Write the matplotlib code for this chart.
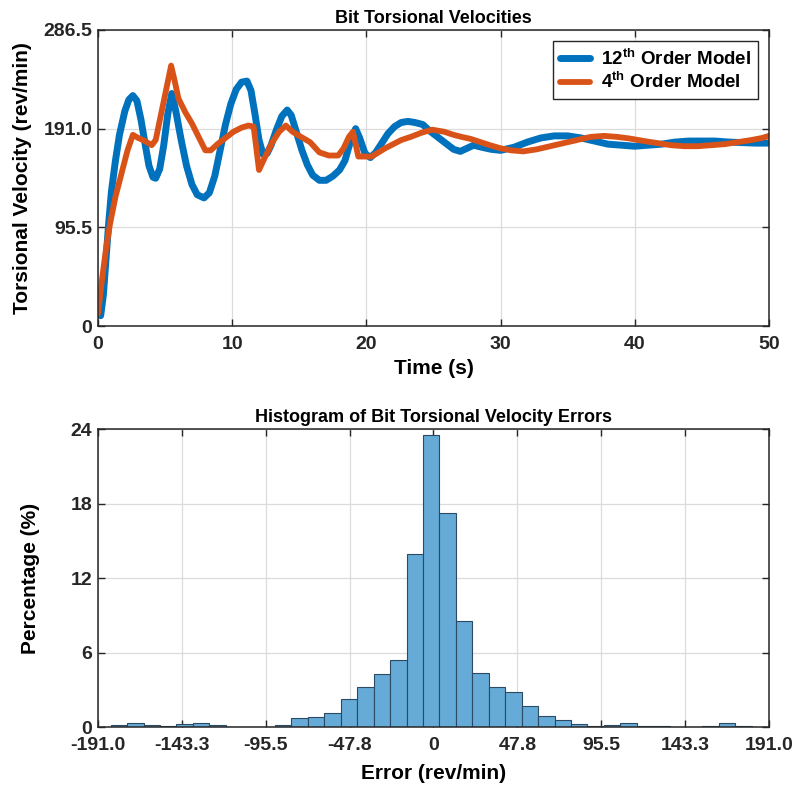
import numpy as np
import matplotlib
matplotlib.use('Agg')
import matplotlib.pyplot as plt

plt.rcParams['font.family'] = 'Liberation Sans'
plt.rcParams['font.weight'] = 'bold'
plt.rcParams['mathtext.fontset'] = 'custom'
plt.rcParams['mathtext.rm'] = 'Liberation Sans:bold'
plt.rcParams['mathtext.bf'] = 'Liberation Sans:bold'

# Bit torsional velocity, 12th order model (time s, rev/min)
t_12 = [0.0, 0.2, 0.4, 0.6, 0.8, 1.0, 1.3, 1.6, 2.0, 2.3, 2.6, 2.9, 3.2, 3.5, 3.8,
        4.1, 4.3, 4.6, 4.9, 5.2, 5.5, 5.8, 6.2, 6.6, 7.0, 7.4, 7.9, 8.3, 8.7, 9.1,
        9.5, 9.9, 10.3, 10.7, 11.1, 11.4, 11.7, 12.0, 12.3, 12.6, 12.9, 13.3, 13.7,
        14.1, 14.4, 14.8, 15.2, 15.6, 16.0, 16.5, 17.0, 17.5, 18.0, 18.4, 18.8, 19.2,
        19.5, 19.9, 20.3, 20.7, 21.2, 21.6, 22.1, 22.6, 23.1, 23.6, 24.2, 24.7, 25.3,
        25.9, 26.5, 27.0, 27.5, 28.0, 28.6, 29.3, 30.0, 31.0, 32.0, 33.0, 34.0, 35.0,
        36.0, 37.0, 38.0, 39.0, 40.0, 41.0, 42.0, 43.0, 44.0, 45.0, 46.0, 47.0, 48.0,
        49.0, 50.0]
v_12 = [12, 10, 30, 65, 100, 130, 160, 185, 208, 219, 223, 218, 200, 177, 155,
        144, 143, 152, 175, 205, 225, 208, 180, 155, 137, 127, 124, 129, 145, 170,
        195, 215, 229, 236, 237, 228, 205, 180, 166, 167, 175, 190, 203,
        209, 204, 187, 170, 156, 146, 141, 141, 145, 151, 160, 178, 191,
        182, 167, 163, 168, 178, 186, 193, 197, 198, 197, 195, 189, 183,
        177, 171, 169, 172, 175, 173, 171, 170, 173, 178, 182, 184, 184,
        182, 179, 176, 175, 174, 175, 176, 178, 179, 179, 179, 178, 177.5,
        177, 177]

# 4th order model
t_4 = [0.0, 0.3, 0.6, 0.9, 1.3, 1.8, 2.2, 2.6, 3.0, 3.5, 4.0, 4.3, 4.7, 5.1, 5.45,
       5.7, 6.0, 6.5, 7.0, 7.5, 8.0, 8.4, 8.9, 9.5, 10.1, 10.7, 11.2, 11.6, 12.0,
       12.5, 13.0, 13.5, 14.0, 14.5, 15.0, 15.8, 16.5, 17.2, 17.9, 18.3, 18.7, 19.0,
       19.4, 19.9, 20.4, 20.9, 21.4, 22.0, 22.6, 23.3, 24.1, 24.9, 25.8, 26.5, 27.1,
       27.8, 28.5, 29.2, 30.0, 30.8, 31.7, 32.7, 33.7, 34.7, 35.7, 36.7, 37.7, 38.7,
       39.6, 40.7, 41.7, 42.7, 43.7, 44.7, 45.7, 46.7, 47.7, 48.7, 49.5, 50.0]
v_4 = [12, 45, 75, 99, 125, 150, 170, 185, 182, 179, 175, 180, 205, 230, 252,
       238, 220, 207, 196, 183, 170, 170, 176, 182, 188, 192, 194, 193, 151,
       165, 178, 188, 194, 188, 184, 178, 168, 165, 165, 172, 183, 188,
       164, 164, 164, 168, 172, 176, 180, 183, 187, 190, 188, 185, 183,
       181, 178, 175, 172, 170, 169, 171, 174, 177, 180, 183, 184, 183,
       181.5, 179, 177, 175, 174, 174, 175, 176, 178, 180, 182, 184]

# error histogram (percent per bin)
bin_first_edge = -183.8
bin_width = 9.36
err_pct = [0.13, 0.30, 0.19, 0.08, 0.22, 0.30, 0.13, 0.01, 0.02, 0.01,
           0.13, 0.75, 0.78, 1.16, 2.23, 3.20, 4.25, 5.38, 13.94, 23.54,
           17.22, 8.58, 4.39, 3.20, 2.82, 1.67, 0.86, 0.59, 0.22, 0.05,
           0.13, 0.35, 0.11, 0.05, 0.01, 0.01, 0.11, 0.35, 0.05]

vel_ticks = [0, 95.5, 191.0, 286.5]
vel_labels = ['0', '95.5', '191.0', '286.5']
err_ticks = [-191.0, -143.3, -95.5, -47.8, 0, 47.8, 95.5, 143.3, 191.0]
err_labels = ['-191.0', '-143.3', '-95.5', '-47.8', '0', '47.8', '95.5', '143.3', '191.0']

dark = '#262626'

fig = plt.figure(figsize=(7.96, 7.93), dpi=100)
ax1 = fig.add_axes([0.1231, 0.5889, 0.8429, 0.3733])
ax2 = fig.add_axes([0.1231, 0.0832, 0.8429, 0.3754])

for ax in (ax1, ax2):
    ax.set_axisbelow(True)
    ax.grid(True, color='#dcdcdc', linewidth=0.9)
    ax.tick_params(direction='in', length=5, width=1, top=True, right=True,
                   labelsize=14, colors=dark)
    ax.tick_params(axis='x', pad=7)
    ax.tick_params(axis='y', pad=4)
    for s in ax.spines.values():
        s.set_color(dark)
        s.set_linewidth(1.1)

# Top: velocities
ax1.plot(t_12, v_12, color='#0072BD', linewidth=5.0, solid_joinstyle='round',
         solid_capstyle='round', label=r'12$^{\mathbf{th}}$ Order Model')
ax1.plot(t_4, v_4, color='#D95319', linewidth=4.2, solid_joinstyle='round',
         solid_capstyle='round', label=r'4$^{\mathbf{th}}$ Order Model')
ax1.set_xlim(0, 50)
ax1.set_ylim(0, 286.5)
ax1.set_yticks(vel_ticks)
ax1.set_yticklabels(vel_labels, fontweight='bold')
ax1.set_xticks([0, 10, 20, 30, 40, 50])
ax1.set_xticklabels(['0', '10', '20', '30', '40', '50'], fontweight='bold')
ax1.set_title('Bit Torsional Velocities', fontsize=13, fontweight='bold', pad=5)
ax1.set_xlabel('Time (s)', fontsize=15, fontweight='bold')
ax1.set_ylabel('Torsional Velocity (rev/min)', fontsize=15, fontweight='bold')
ax1.xaxis.set_label_coords(0.5, -0.11)
ax1.yaxis.set_label_coords(-0.098, 0.5)
leg = ax1.legend(loc='upper right', fancybox=False, framealpha=1, edgecolor=dark,
                 fontsize=13.5, handlelength=1.6, handletextpad=0.6,
                 borderaxespad=0.6, labelspacing=0.15, borderpad=0.35)
leg.get_frame().set_linewidth(1.0)
for txt in leg.get_texts():
    txt.set_fontweight('bold')

# Bottom: histogram of errors
edges = bin_first_edge + bin_width * np.arange(len(err_pct) + 1)
ax2.hist(edges[:-1], bins=edges, weights=err_pct, color='#66AAD7',
         edgecolor='#2b4a63', linewidth=0.8)
ax2.set_xlim(-191.0, 191.0)
ax2.set_ylim(0, 24)
ax2.set_xticks(err_ticks)
ax2.set_xticklabels(err_labels, fontweight='bold')
ax2.set_yticks([0, 6, 12, 18, 24])
ax2.set_yticklabels(['0', '6', '12', '18', '24'], fontweight='bold')
ax2.set_title('Histogram of Bit Torsional Velocity Errors', fontsize=13,
              fontweight='bold', pad=5)
ax2.set_xlabel('Error (rev/min)', fontsize=15, fontweight='bold')
ax2.set_ylabel('Percentage (%)', fontsize=15, fontweight='bold')
ax2.xaxis.set_label_coords(0.5, -0.125)
ax2.yaxis.set_label_coords(-0.086, 0.5)

fig.savefig('out.png', dpi=100)
